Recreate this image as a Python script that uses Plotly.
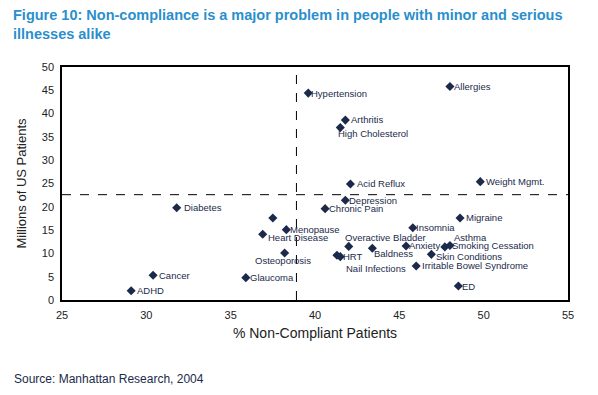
import plotly.graph_objects as go

# ---- data ----
conditions = ["Hypertension", "Allergies", "Arthritis", "High Cholesterol", "Acid Reflux",
              "Weight Mgmt.", "Depression", "Chronic Pain", "Migraine", "Diabetes", "",
              "Menopause", "Heart Disease", "Osteoporosis", "Cancer", "Glaucoma", "ADHD",
              "Insomnia", "Overactive Bladder", "Anxiety", "Asthma", "Smoking Cessation",
              "Nail Infections", "HRT", "Baldness", "Skin Conditions",
              "Irritable Bowel Syndrome", "ED"]
pct_non_compliant = [39.6, 48.0, 41.8, 41.5, 42.1, 49.8, 41.8, 40.6, 48.6, 31.8, 37.5,
                     38.3, 36.9, 38.2, 30.4, 35.9, 29.1, 45.8, 42.0, 45.4, 47.7, 48.0,
                     41.3, 41.5, 43.4, 46.9, 46.0, 48.5]
millions_patients = [44.4, 45.8, 38.6, 37.0, 24.9, 25.4, 21.4, 19.6, 17.6, 19.8, 17.6,
                     15.1, 14.1, 10.1, 5.3, 4.8, 2.0, 15.5, 11.5, 11.6, 11.4, 11.7,
                     9.6, 9.3, 11.1, 9.8, 7.3, 3.0]
x_ticks = [25, 30, 35, 40, 45, 50, 55]
y_ticks = [0, 5, 10, 15, 20, 25, 30, 35, 40, 45, 50]
avg_pct = 38.9
avg_millions = 22.6

# ---- label placement (style) ----
default_place = ("left", 4, 0)
place = {
    "High Cholesterol": ("left", -2, -6),
    "Osteoporosis": ("center", -2, -8),
    "Overactive Bladder": ("left", -4, 9),
    "Asthma": ("left", 9, 9),
    "Smoking Cessation": ("left", 2, 0),
    "Nail Infections": ("left", 9, -13),
    "HRT": ("left", 3, 0),
    "Baldness": ("left", 2, -5),
    "Heart Disease": ("left", 5, -3),
    "Skin Conditions": ("left", 5, -2),
    "Diabetes": ("left", 7, 0),
    "Acid Reflux": ("left", 7, 0),
    "Arthritis": ("left", 6, 1),
    "Cancer": ("left", 6, 0),
    "ADHD": ("left", 6, 0),
    "Migraine": ("left", 6, 0),
    "Irritable Bowel Syndrome": ("left", 6, 0),
    "Weight Mgmt.": ("left", 6, 0),
    "Insomnia": ("left", 3, 0),
    "Anxiety": ("left", 3, 0),
    "Hypertension": ("left", 3, 0),
}

navy = "#1b2a4a"
font_family = "Liberation Sans, Arial, sans-serif"

fig = go.Figure()
fig.add_trace(go.Scatter(
    x=pct_non_compliant, y=millions_patients, mode="markers",
    marker=dict(symbol="diamond", size=7, color=navy),
    hoverinfo="text", text=conditions, showlegend=False,
))

annotations = []
for name, xv, yv in zip(conditions, pct_non_compliant, millions_patients):
    if not name:
        continue
    xa, xs, ys = place.get(name, default_place)
    annotations.append(dict(
        x=xv, y=yv, xref="x", yref="y", text=name, showarrow=False,
        xanchor=xa, yanchor="middle", xshift=xs, yshift=ys,
        font=dict(family=font_family, size=9.5, color=navy),
        borderpad=0, borderwidth=0,
    ))

# title (paper coords: plot area spans x 62..568 px, y 67..300 px)
annotations.append(dict(
    x=-0.0988, y=1.262, xref="paper", yref="paper", xanchor="left", yanchor="top",
    align="left", showarrow=False, borderpad=0,
    text="<b>Figure 10: Non-compliance is a major problem in people with minor and serious<br>illnesses alike</b>",
    font=dict(family=font_family, size=14.5, color="#2a8fcc"),
))
annotations.append(dict(
    x=-0.099, y=-0.34, xref="paper", yref="paper", xanchor="left", yanchor="middle",
    text="Source: Manhattan Research, 2004", showarrow=False,
    font=dict(family=font_family, size=12, color=navy),
))

fig.add_shape(type="line", xref="x", yref="paper", x0=avg_pct, x1=avg_pct, y0=0, y1=1,
              line=dict(color="black", width=1, dash="dash"))
fig.add_shape(type="line", xref="paper", yref="y", x0=0, x1=1, y0=avg_millions, y1=avg_millions,
              line=dict(color="black", width=1, dash="dash"))

fig.update_layout(
    width=598, height=395,
    margin=dict(l=62, r=30, t=67, b=95),
    paper_bgcolor="white", plot_bgcolor="white",
    font=dict(family=font_family, color="#222222"),
    xaxis=dict(
        range=[25, 55], tickvals=x_ticks, ticks="", showgrid=False, zeroline=False,
        showline=True, linecolor="black", linewidth=1.5, mirror=True,
        tickfont=dict(size=11, color="#222222"), ticklabelstandoff=4,
        title=dict(text="% Non-Compliant Patients", font=dict(size=14, color="#222222"), standoff=8),
    ),
    yaxis=dict(
        range=[0, 50], tickvals=y_ticks, ticks="", showgrid=False, zeroline=False,
        showline=True, linecolor="black", linewidth=1.5, mirror=True,
        tickfont=dict(size=11, color="#222222"), ticklabelstandoff=4,
        title=dict(text="Millions of US Patients", font=dict(size=13, color="#222222"), standoff=12),
    ),
    annotations=annotations,
)

fig.write_html("out.html", config={"displayModeBar": False},
               post_script="document.body.style.margin='0';")
